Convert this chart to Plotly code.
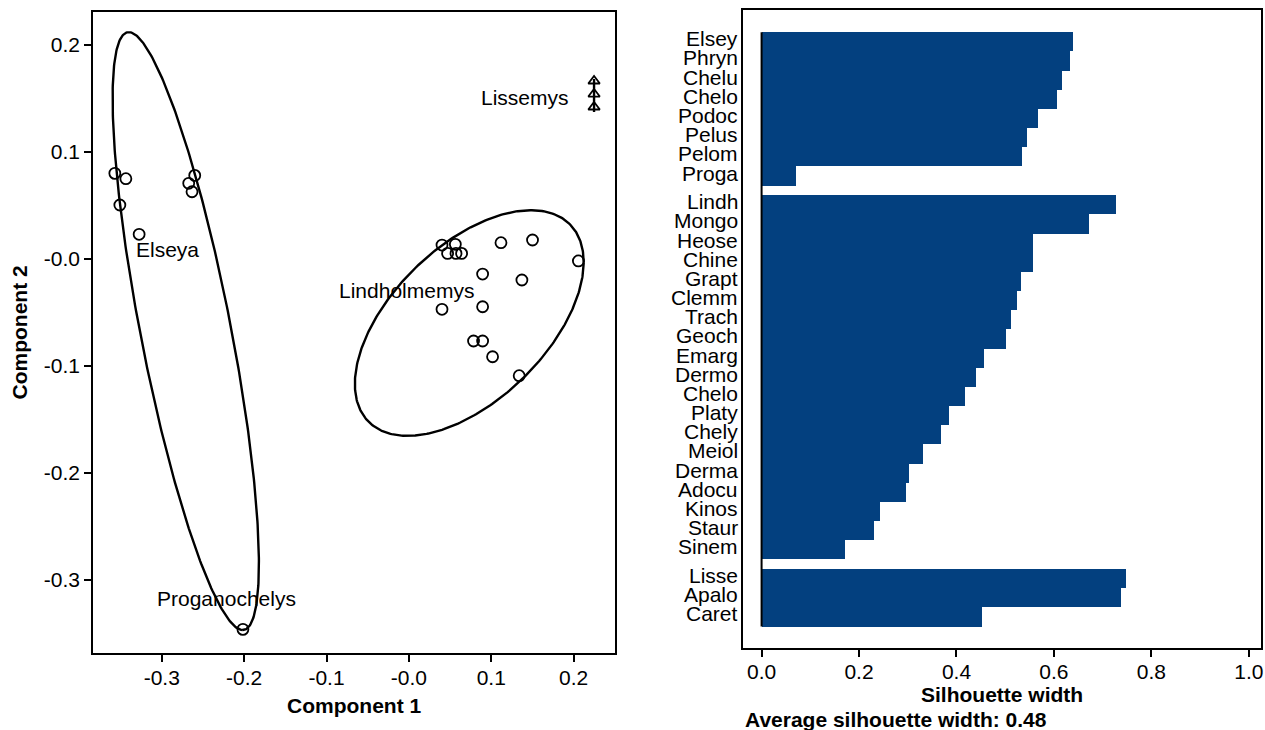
import numpy as np
import plotly.graph_objects as go

FONT = "Liberation Sans, Arial, sans-serif"
W, H = 1265, 730

# ---------------- cluster plot: scores on the first two components ----------------
elseya_x = [-0.3570, -0.3436, -0.3509, -0.3275, -0.2600, -0.2673, -0.2633, -0.2015]
elseya_y = [0.0798, 0.0748, 0.0502, 0.0228, 0.0779, 0.0705, 0.0626, -0.3464]

lindh_x = [0.0402, 0.0564, 0.0470, 0.0572, 0.0640, 0.1118, 0.1501, 0.2058,
           0.0895, 0.1372, 0.0402, 0.0895, 0.0785, 0.0895, 0.1016, 0.1339]
lindh_y = [0.0128, 0.0135, 0.0050, 0.0050, 0.0050, 0.0150, 0.0175, -0.0021,
           -0.0143, -0.0199, -0.0473, -0.0449, -0.0769, -0.0769, -0.0916, -0.1093]

lisse_x = [0.2248, 0.2248, 0.2248]
lisse_y = [0.1661, 0.1539, 0.1418]

# spanning ellipses: centre plus two conjugate semi-axes
ell_cx = [-0.2709, 0.0733, 0.2248]
ell_cy = [-0.0676, -0.0601, 0.1525]
ell_ax = [0.0691, 0.1389, 0.0]
ell_ay = [-0.2794, 0.0569, 0.0154]
ell_bx = [0.0558, 0.0, 0.0]
ell_by = [0.0, 0.0888, 0.0]

label_text = ["Elseya", "Lindholmemys", "Proganochelys", "Lissemys"]
label_x = [-0.2927, -0.0030, -0.2212, 0.1412]
label_y = [0.0090, -0.0300, -0.3180, 0.1510]

pc_xticks = [-0.3, -0.2, -0.1, 0.0, 0.1, 0.2]
pc_xtext = ["-0.3", "-0.2", "-0.1", "-0.0", "0.1", "0.2"]
pc_yticks = [-0.3, -0.2, -0.1, 0.0, 0.1, 0.2]
pc_ytext = ["-0.3", "-0.2", "-0.1", "-0.0", "0.1", "0.2"]

# ---------------- silhouette widths per cluster ----------------
sil_names = [
    ["Elsey", "Phryn", "Chelu", "Chelo", "Podoc", "Pelus", "Pelom", "Proga"],
    ["Lindh", "Mongo", "Heose", "Chine", "Grapt", "Clemm", "Trach", "Geoch",
     "Emarg", "Dermo", "Chelo", "Platy", "Chely", "Meiol", "Derma", "Adocu",
     "Kinos", "Staur", "Sinem"],
    ["Lisse", "Apalo", "Caret"],
]
sil_values = [
    [0.638, 0.632, 0.616, 0.605, 0.566, 0.545, 0.535, 0.070],
    [0.727, 0.672, 0.556, 0.556, 0.533, 0.523, 0.511, 0.501, 0.457, 0.440,
     0.418, 0.385, 0.368, 0.330, 0.302, 0.297, 0.242, 0.231, 0.170],
    [0.747, 0.737, 0.451],
]
sil_xticks = [0.0, 0.2, 0.4, 0.6, 0.8, 1.0]

BAR_COLOR = "#03407f"

# panel boxes in page pixels
L_X0, L_X1, L_Y0, L_Y1 = 93.4, 615.7, 12, 653
R_X0, R_X1, R_Y0, R_Y1 = 744, 1263, 10, 648


def fx(p):
    return p / W


def fy(p):
    return 1 - p / H


fig = go.Figure()

# ellipses
t = np.linspace(0, 2 * np.pi, 400)
for cx, cy, ax, ay, bx, by in zip(ell_cx, ell_cy, ell_ax, ell_ay, ell_bx, ell_by):
    fig.add_trace(go.Scatter(
        x=cx + ax * np.cos(t) + bx * np.sin(t),
        y=cy + ay * np.cos(t) + by * np.sin(t),
        mode="lines", line=dict(color="black", width=2.4),
        hoverinfo="skip", showlegend=False, xaxis="x", yaxis="y"))

# observations
fig.add_trace(go.Scatter(
    x=elseya_x + lindh_x, y=elseya_y + lindh_y, mode="markers",
    marker=dict(symbol="circle-open", size=11, color="black", line=dict(width=1.8)),
    showlegend=False, xaxis="x", yaxis="y"))
fig.add_trace(go.Scatter(
    x=lisse_x, y=lisse_y, mode="markers",
    marker=dict(symbol="triangle-up-open", size=10, color="black", line=dict(width=1.8)),
    showlegend=False, xaxis="x", yaxis="y"))

# silhouette bars: unit-height bars, half a bar of space between clusters
positions, names, values = [], [], []
pos = 0.5
for ci, (nm, vals) in enumerate(zip(sil_names, sil_values)):
    if ci > 0:
        pos += 0.5
    for n, v in zip(nm, vals):
        positions.append(pos)
        names.append(n)
        values.append(v)
        pos += 1.0

fig.add_trace(go.Bar(
    x=values, y=positions, orientation="h", width=1.0,
    marker=dict(color=BAR_COLOR, line=dict(width=0)),
    showlegend=False, xaxis="x2", yaxis="y2"))

# zero line along the bars
fig.add_trace(go.Scatter(
    x=[0, 0], y=[positions[0] - 0.5, positions[-1] + 0.5], mode="lines",
    line=dict(color="black", width=2), showlegend=False, hoverinfo="skip",
    xaxis="x2", yaxis="y2"))

avg_width = float(np.mean(values))
n_total = positions[-1] + 0.5

axis_common = dict(
    showline=True, mirror=True, linecolor="black", linewidth=2,
    showgrid=False, zeroline=False, ticks="outside", ticklen=7, tickwidth=2,
    tickcolor="black", tickfont=dict(family=FONT, size=21, color="black"),
    ticklabeloverflow="allow",
)

fig.update_layout(
    width=W, height=H, margin=dict(l=0, r=0, t=0, b=0),
    paper_bgcolor="white", plot_bgcolor="white",
    bargap=0,
    xaxis=dict(axis_common, domain=[fx(L_X0), fx(L_X1)], range=[-0.3832, 0.2499],
               tickmode="array", tickvals=pc_xticks, ticktext=pc_xtext, anchor="y",
               ticklabelstandoff=-2),
    yaxis=dict(axis_common, domain=[fy(L_Y1), fy(L_Y0)], range=[-0.3685, 0.2306],
               tickmode="array", tickvals=pc_yticks, ticktext=pc_ytext, anchor="x"),
    xaxis2=dict(axis_common, domain=[fx(R_X0), fx(R_X1)], range=[-0.0385, 1.025],
                tickmode="array", tickvals=sil_xticks,
                ticktext=[f"{v:.1f}" for v in sil_xticks], anchor="y2",
                ticklabelstandoff=-3),
    yaxis2=dict(axis_common, domain=[fy(R_Y1), fy(R_Y0)],
                range=[n_total + 1.12, -1.16], ticks="", showticklabels=False,
                anchor="x2"),
)

annotations = []
for txt, x, y in zip(label_text, label_x, label_y):
    annotations.append(dict(text=txt, x=x, y=y, xref="x", yref="y", showarrow=False,
                            xanchor="center", yanchor="middle",
                            font=dict(family=FONT, size=21, color="black")))

# observation names beside the silhouette bars
for n, p in zip(names, positions):
    annotations.append(dict(text=n, x=fx(R_X0 - 2.5), y=p, xref="paper", yref="y2",
                            xanchor="right", yanchor="middle", yshift=3,
                            showarrow=False,
                            font=dict(family=FONT, size=21, color="black")))

title_font = dict(family=FONT, size=21, color="black")
annotations += [
    dict(text="<b>Component 1</b>", x=fx((L_X0 + L_X1) / 2), y=fy(705),
         xanchor="center", yanchor="middle",
         xref="paper", yref="paper", showarrow=False, font=title_font),
    dict(text="<b>Component 2</b>", x=fx(20), y=fy((L_Y0 + L_Y1) / 2), textangle=-90,
         xanchor="center", yanchor="middle",
         xref="paper", yref="paper", showarrow=False, font=title_font),
    dict(text="<b>Silhouette width</b>", x=fx((R_X0 + R_X1) / 2), y=fy(694),
         xanchor="center", yanchor="middle",
         xref="paper", yref="paper", showarrow=False, font=title_font),
    dict(text=f"<b>Average silhouette width: {avg_width:.2f}</b>", x=fx(744), y=fy(719),
         xanchor="left", yanchor="middle", xref="paper", yref="paper",
         showarrow=False, font=title_font),
]
fig.update_layout(annotations=annotations)

fig.write_html("out.html")
